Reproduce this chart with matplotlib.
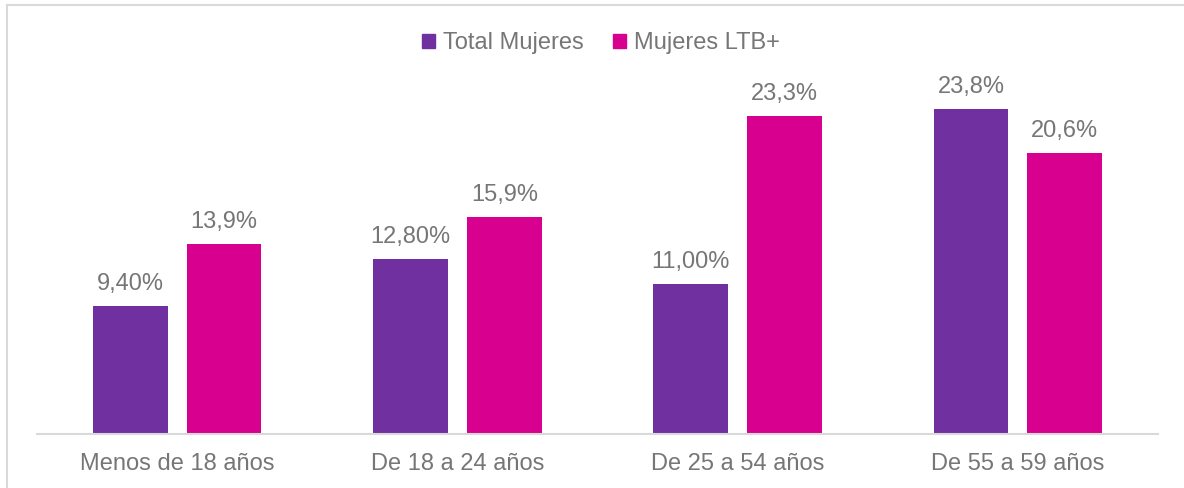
import numpy as np
import matplotlib.pyplot as plt
from matplotlib.patches import Patch
from matplotlib.lines import Line2D

categories = ['Menos de 18 años', 'De 18 a 24 años', 'De 25 a 54 años', 'De 55 a 59 años']
total_mujeres = [9.4, 12.8, 11.0, 23.8]
mujeres_ltb = [13.9, 15.9, 23.3, 20.6]
labels_total = ['9,40%', '12,80%', '11,00%', '23,8%']
labels_ltb = ['13,9%', '15,9%', '23,3%', '20,6%']
series_names = ['Total Mujeres', 'Mujeres LTB+']

purple = '#7030A0'
magenta = '#D8008E'
gray_txt = '#767676'

plt.rcParams['font.family'] = ['Liberation Sans', 'DejaVu Sans']

W, H = 1184, 488
fig = plt.figure(figsize=(W / 100, H / 100), dpi=100)
ax = fig.add_axes([37 / W, (H - 434) / H, 1121 / W, 374 / H])

x = np.arange(len(categories))
bw = 0.267
off = (bw + 0.068) / 2
b1 = ax.bar(x - off, total_mujeres, bw, color=purple)
b2 = ax.bar(x + off, mujeres_ltb, bw, color=magenta)

for rects, labs in ((b1, labels_total), (b2, labels_ltb)):
    for r, lab in zip(rects, labs):
        ax.annotate(lab, (r.get_x() + r.get_width() / 2, r.get_height()),
                    xytext=(0, 11), textcoords='offset pixels',
                    ha='center', va='bottom', fontsize=17, color=gray_txt)

ax.set_xlim(-0.5, len(categories) - 0.5)
ax.set_ylim(0, 27.38)
ax.set_xticks(x)
ax.set_xticklabels(categories, fontsize=17, color=gray_txt)
ax.tick_params(axis='x', length=0, pad=14)
ax.set_yticks([])
for s in ['top', 'right', 'left']:
    ax.spines[s].set_visible(False)
ax.spines['bottom'].set_color('#D9D9D9')
ax.spines['bottom'].set_linewidth(1.5)

handles = [Patch(color=purple), Patch(color=magenta)]
fig.legend(handles, series_names, loc='center', bbox_to_anchor=(601 / W, 1 - 43 / H),
           ncol=2, frameon=False, fontsize=17, labelcolor=gray_txt,
           handlelength=0.55, handleheight=0.55, handletextpad=0.35,
           columnspacing=1.25)

# chart border (top and left visible)
fig.add_artist(Line2D([7 / W, 1], [1 - 5 / H, 1 - 5 / H], color='#D9D9D9', lw=1.5))
fig.add_artist(Line2D([7 / W, 7 / W], [0, 1 - 5 / H], color='#D9D9D9', lw=1.5))

fig.savefig('out.png', dpi=100)
